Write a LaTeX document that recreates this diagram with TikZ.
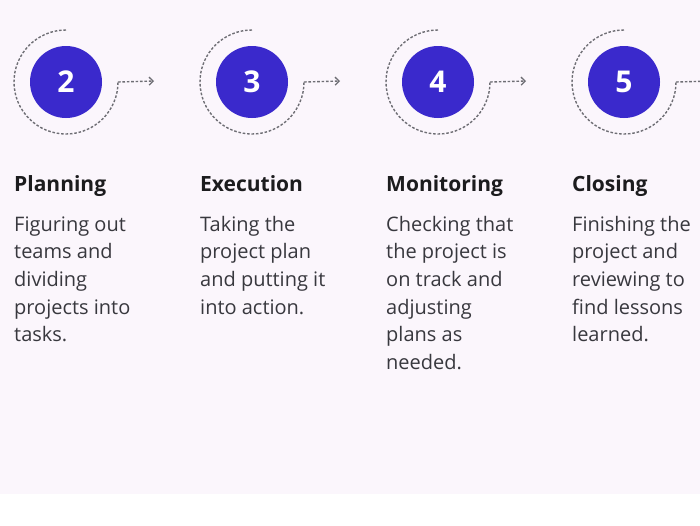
\documentclass[tikz,border=0pt]{standalone}
\usepackage{fontspec}
\setmainfont{Open Sans}
\usetikzlibrary{calc,arrows.meta}
\definecolor{bgpink}{HTML}{FBF6FC}
\definecolor{indigo}{HTML}{3A29CC}
\definecolor{dashgray}{HTML}{6E6E74}
\definecolor{titlecol}{HTML}{1C1C1E}
\definecolor{bodycol}{HTML}{38383E}
\tikzset{
  stepcircle/.style={circle, fill=indigo, minimum size=72pt, inner sep=0pt,
    text=white, font=\fontsize{30}{30}\selectfont\bfseries},
  ring/.style={draw=dashgray, line width=1.4pt, dash pattern=on 2.6pt off 1.8pt},
  ringarrow/.style={draw=dashgray, line width=1.4pt, dash pattern=on 2.6pt off 1.8pt,
    -{Straight Barb[length=4pt,width=8pt,line width=1.3pt]}},
  steptitle/.style={anchor=base west, inner sep=0pt, text=titlecol,
    font=\fontsize{21}{24}\selectfont\bfseries},
  stepbody/.style={anchor=base west, inner sep=0pt, text=bodycol, align=left,
    font=\fontsize{20}{27.7}\selectfont}
}
\begin{document}
\begin{tikzpicture}[x=1pt,y=-1pt]
\useasboundingbox (0,0) rectangle (700,525);
\fill[white] (0,0) rectangle (700,525);
\fill[bgpink] (0,0) rectangle (700,494);
\clip (0,0) rectangle (700,525);
% circles
\node[stepcircle] (n2) at (66,82) {2};
\node[stepcircle] (n3) at (252,82) {3};
\node[stepcircle] (n4) at (438,82) {4};
\node[stepcircle] (n5) at (624,82) {5};
% dashed rings and arrows
\foreach \n in {2,3,4,5}{
  \coordinate (s\n) at ($(n\n.center)+(0,-52)$);
  \draw[ring] (s\n) arc[start angle=270, end angle=0, radius=52] coordinate (e\n);
  \coordinate (t\n) at ($(e\n)+(36,-1)$);
  \draw[ringarrow] (e\n) -- (t\n);
}
% titles
\node[steptitle] (h2) at (14,191) {Planning};
\node[steptitle] (h3) at (200,191) {Execution};
\node[steptitle] (h4) at (386,191) {Monitoring};
\node[steptitle] (h5) at (572,191) {Closing};
% bodies (base anchor = last line baseline; first baseline at 231)
\node[stepbody] (b2) at (14,341.8) {Figuring out\\teams and\\dividing\\projects into\\tasks.};
\node[stepbody] (b3) at (200,314.1) {Taking the\\project plan\\and putting it\\into action.};
\node[stepbody] (b4) at (386,369.5) {Checking that\\the project is\\on track and\\adjusting\\plans as\\needed.};
\node[stepbody] (b5) at (572,341.8) {Finishing the\\project and\\reviewing to\\find lessons\\learned.};
\end{tikzpicture}
\end{document}
